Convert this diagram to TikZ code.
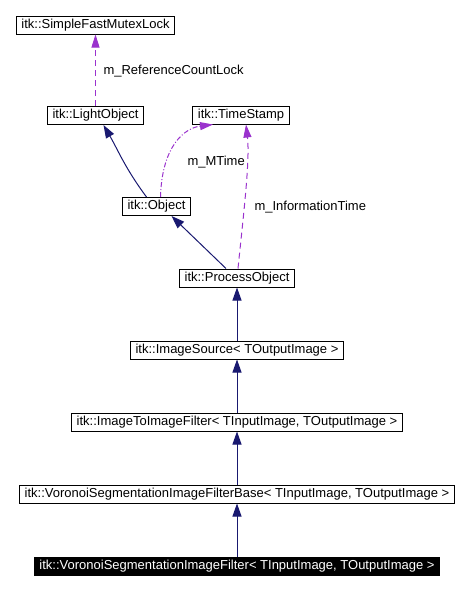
\documentclass[tikz,border=0pt]{standalone}
\usepackage{fontspec}
\setmainfont{Liberation Sans}
\usetikzlibrary{arrows.meta}
\definecolor{inheritblue}{HTML}{191970}
\definecolor{usagepurple}{HTML}{9A32CD}

\begin{document}
\begin{tikzpicture}[
    x=1pt, y=-1pt,
    node distance = 72pt,
    font=\fontsize{13}{15}\selectfont,
    line width=1pt,
    cls/.style={draw=black, rectangle, minimum height=18pt, inner xsep=5pt, inner ysep=0pt},
    inherit/.style={draw=inheritblue, -{Triangle[length=13pt, width=9pt]}},
    usage/.style={draw=usagepurple, dashed, dash pattern=on 6pt off 4pt, -{Triangle[length=13pt, width=8pt, fill=usagepurple]}},
    lbl/.style={anchor=west, inner sep=0pt}]
    \useasboundingbox (0,0) rectangle (469,590);
    % NODES
    % top classes
    \node[cls] (SFML) at (95.5,25) {itk::SimpleFastMutexLock};
    \node[cls] (LO) at (95.5,115.5) {itk::LightObject};
    \node[cls] (TS) at (241,115) {itk::TimeStamp};
    \node[cls] (Obj) at (156.5,206.5) {itk::Object};
    % chain down to the filter
    \node[cls] (PO) at (237,278) {itk::ProcessObject};
    \node[cls, below of = PO] (IS) {itk::ImageSource< TOutputImage >};
    \node[cls, below of = IS] (I2I) {itk::ImageToImageFilter< TInputImage, TOutputImage >};
    \node[cls, below of = I2I] (VBase) {itk::VoronoiSegmentationImageFilterBase< TInputImage, TOutputImage >};
    \node[cls, fill=black, text=white, below of = VBase] (VSIF) {itk::VoronoiSegmentationImageFilter< TInputImage, TOutputImage >};

    % ARROWS
    \draw[usage] (LO.north) -- (SFML.south);
    \draw[inherit] ([xshift=-10pt]Obj.north) .. controls (125,168) and (118,150) .. ([xshift=8pt]LO.south);
    \draw[usage, dash pattern=on 5pt off 2pt on 1pt off 2pt] ([xshift=4pt]Obj.north) .. controls (162,145) and (185,128) .. ([xshift=-28pt]TS.south);
    \draw[inherit] ([xshift=-11pt]PO.north) -- ([xshift=15pt]Obj.south);
    \draw[usage] ([xshift=1pt]PO.north) .. controls (244,210) and (250,160) .. ([xshift=5pt]TS.south);
    \draw[inherit] (IS) -- (PO);
    \draw[inherit] (I2I) -- (IS);
    \draw[inherit] (VBase) -- (I2I);
    \draw[inherit] (VSIF) -- (VBase);

    % member labels
    \node[lbl] (lRef) at (103,71) {m\_ReferenceCountLock};
    \node[lbl] (lMT) at (187,162) {m\_MTime};
    \node[lbl] (lIT) at (254,207) {m\_InformationTime};
\end{tikzpicture}
\end{document}
